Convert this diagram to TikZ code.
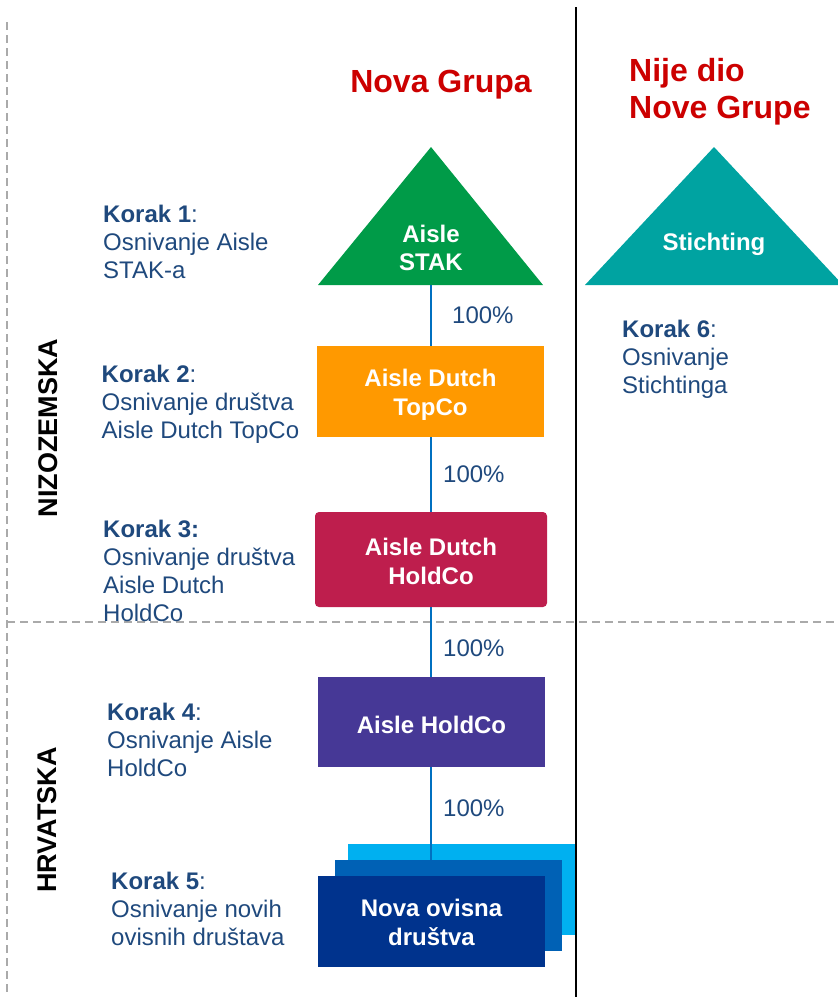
\documentclass[tikz,border=0pt]{standalone}
\usepackage{fontspec}
\setmainfont{Liberation Sans}
\definecolor{kblue}{RGB}{31,73,125}
\definecolor{tred}{RGB}{204,0,0}
\definecolor{lineblue}{RGB}{0,112,192}
\definecolor{dgray}{RGB}{170,170,170}
\definecolor{cgreen}{RGB}{0,155,72}
\definecolor{corange}{RGB}{255,153,0}
\definecolor{ccrimson}{RGB}{190,30,77}
\definecolor{cpurple}{RGB}{70,56,150}
\definecolor{cteal}{RGB}{0,163,161}
\definecolor{clight}{RGB}{0,176,240}
\definecolor{cmed}{RGB}{0,97,181}
\definecolor{cnavy}{RGB}{0,51,141}
\begin{document}
\begin{tikzpicture}[x=1pt,y=-1pt,
  txt/.style={inner sep=0pt, anchor=north west, align=left, text=kblue, font=\fontsize{24}{28}\selectfont},
  ent/.style={inner sep=0pt, anchor=north, align=center, text=white, font=\bfseries\fontsize{24}{29}\selectfont},
  pct/.style={inner sep=0pt, anchor=north west, text=kblue, font=\fontsize{24}{28}\selectfont},
  ttl/.style={inner sep=0pt, text=tred, align=left, font=\bfseries\fontsize{32}{37}\selectfont},
  cty/.style={inner sep=0pt, rotate=90, text=black, font=\bfseries\fontsize{27}{30}\selectfont},
  conn/.style={draw=lineblue, line width=1.2pt},
  dsh/.style={draw=dgray, line width=1.5pt, dash pattern=on 8pt off 5pt},
  boxn/.style={minimum width=227pt, minimum height=91pt, inner sep=0pt, outer sep=0pt}
]
\useasboundingbox (0,0) rectangle (838,997);

% divider lines
\coordinate (vtop) at (7,22);
\coordinate (vbot) at (7,997);
\coordinate (hl) at (7,622);
\coordinate (hr) at (838,622);
\coordinate (btop) at (576,7);
\coordinate (bbot) at (576,997);
\draw[dsh] (vtop) -- (vbot);
\draw[dsh] (hl) -- (hr);
\draw[black, line width=1.6pt] (btop) -- (bbot);

% titles
\node[ttl, anchor=north] (ng) at (441,70) {Nova Grupa};
\node[ttl, anchor=north west] (nije) at (629,58) {Nije dio\\Nove Grupe};

% country labels
\node[cty] (nl) at (48,428) {NIZOZEMSKA};
\node[cty] (hr) at (47.5,820) {HRVATSKA};

% triangles
\coordinate (stakL) at (318,285);
\coordinate (stakA) at (431,147);
\coordinate (stakR) at (543,285);
\coordinate (stakB) at (431,285);
\fill[cgreen] (stakL) -- (stakA) -- (stakR) -- cycle;
\node[ent, font=\bfseries\fontsize{24}{28}\selectfont] (stakT) at (431,225) {Aisle\\STAK};

\coordinate (stiL) at (585,285);
\coordinate (stiA) at (714,147);
\coordinate (stiR) at (843,285);
\fill[cteal] (stiL) -- (stiA) -- (stiR) -- cycle;
\node[ent] (stiT) at (714,233) {Stichting};

% boxes
\node[boxn, fill=corange] (topco) at (430.5,391.5) {};
\node[ent] (topcoT) at (430.5,369) {Aisle Dutch\\TopCo};

\node[boxn, fill=ccrimson, minimum width=232pt, minimum height=95pt, rounded corners=4pt] (dhold) at (431,559.5) {};
\node[ent] (dholdT) at (431,537.5) {Aisle Dutch\\HoldCo};

\node[boxn, fill=cpurple, minimum height=90pt] (ahold) at (431.5,722) {};
\node[ent] (aholdT) at (431.5,715.5) {Aisle HoldCo};

\node[boxn, fill=clight] (light) at (461.5,889.5) {};
\draw[conn] (ahold.south -| stakB) -- (stakB |- 0,860);
\node[boxn, fill=cmed] (med) at (448.5,905.5) {};
\node[boxn, fill=cnavy] (navy) at (431.5,921.5) {};
\node[ent] (navyT) at (431.5,899) {Nova ovisna\\društva};

% connectors
\draw[conn] (stakB) -- (stakB |- topco.north);
\draw[conn] (stakB |- topco.south) -- (stakB |- dhold.north);
\draw[conn] (stakB |- dhold.south) -- (stakB |- ahold.north);

% percentages
\node[pct] (p1) at (452,307) {100\%};
\node[pct] (p2) at (443,466) {100\%};
\node[pct] (p3) at (443,640) {100\%};
\node[pct] (p4) at (443,800) {100\%};

% step texts
\node[txt] (k1) at (103,205) {\textbf{Korak 1}:\\Osnivanje Aisle\\STAK-a};
\node[txt] (k2) at (101.5,365) {\textbf{Korak 2}:\\Osnivanje društva\\Aisle Dutch TopCo};
\node[txt] (k3) at (103,520) {\textbf{Korak 3:}\\Osnivanje društva\\Aisle Dutch\\HoldCo};
\node[txt] (k4) at (107,703) {\textbf{Korak 4}:\\Osnivanje Aisle\\HoldCo};
\node[txt] (k5) at (111,872) {\textbf{Korak 5}:\\Osnivanje novih\\ovisnih društava};
\node[txt] (k6) at (622,320) {\textbf{Korak 6}:\\Osnivanje\\Stichtinga};
\end{tikzpicture}
\end{document}
